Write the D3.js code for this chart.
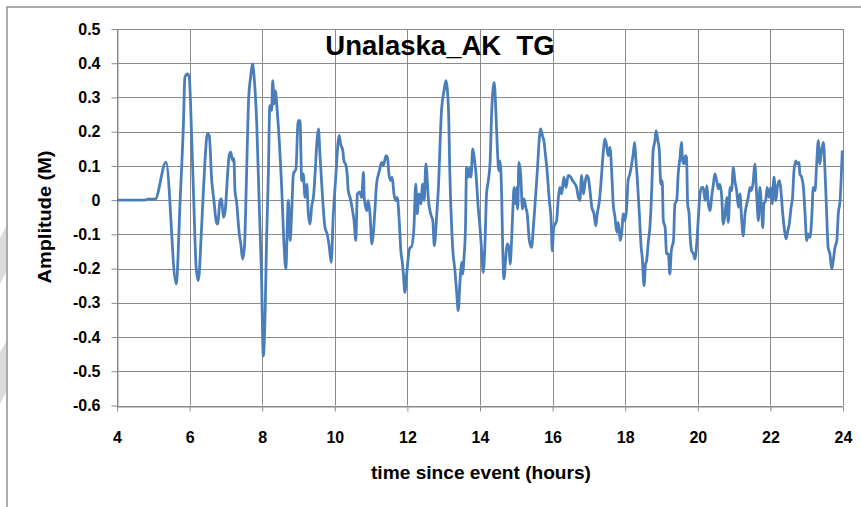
<!DOCTYPE html>
<html>
<head>
<meta charset="utf-8">
<script src="https://cdn.jsdelivr.net/npm/d3@7"></script>
<style>
  html, body { margin: 0; padding: 0; background: #ffffff; }
  svg { display: block; }
  text { font-family: "Liberation Sans", Arial, sans-serif; font-weight: bold; fill: #000; }
</style>
</head>
<body>
<script>
// tide gauge record
var timeHours = [
  4.00, 4.77, 4.85, 5.05, 5.35, 5.63, 5.74, 5.83, 5.87, 5.94, 5.99, 6.06, 6.12, 6.18, 6.20, 6.24,
  6.33, 6.38, 6.42, 6.49, 6.54, 6.61, 6.67, 6.73, 6.77, 6.84, 6.88, 6.93, 6.98, 7.05, 7.09, 7.13,
  7.19, 7.22, 7.25, 7.30, 7.34, 7.37, 7.41, 7.46, 7.51, 7.57, 7.62, 7.68, 7.74, 7.77, 7.85, 7.92,
  7.98, 8.03, 8.08, 8.12, 8.17, 8.21, 8.26, 8.29, 8.33, 8.36, 8.42, 8.54, 8.60, 8.65, 8.72, 8.77,
  8.81, 8.86, 8.93, 8.99, 9.04, 9.09, 9.13, 9.18, 9.23, 9.27, 9.32, 9.36, 9.41, 9.55, 9.59, 9.64,
  9.73, 9.79, 9.85, 9.90, 9.96, 10.02, 10.12, 10.16, 10.22, 10.25, 10.31, 10.34, 10.37, 10.42, 10.49, 10.53,
  10.58, 10.62, 10.69, 10.74, 10.79, 10.81, 10.88, 10.92, 10.97, 11.02, 11.06, 11.11, 11.15, 11.23, 11.29, 11.34,
  11.41, 11.45, 11.49, 11.54, 11.58, 11.63, 11.68, 11.72, 11.78, 11.82, 11.86, 11.89, 11.93, 11.98, 12.07, 12.11,
  12.18, 12.23, 12.27, 12.32, 12.37, 12.42, 12.46, 12.51, 12.58, 12.64, 12.70, 12.74, 12.81, 12.85, 12.94, 13.01,
  13.06, 13.13, 13.17, 13.25, 13.31, 13.36, 13.40, 13.45, 13.50, 13.52, 13.56, 13.60, 13.63, 13.68, 13.72, 13.75,
  13.80, 13.84, 13.89, 13.95, 14.00, 14.05, 14.09, 14.14, 14.18, 14.23, 14.28, 14.32, 14.39, 14.44, 14.48, 14.52,
  14.55, 14.60, 14.62, 14.66, 14.71, 14.75, 14.80, 14.83, 14.87, 14.90, 14.94, 14.98, 15.01, 15.04, 15.07, 15.12,
  15.17, 15.21, 15.26, 15.30, 15.36, 15.42, 15.47, 15.51, 15.58, 15.63, 15.67, 15.73, 15.76, 15.80, 15.84, 15.91,
  15.96, 15.99, 16.03, 16.07, 16.11, 16.16, 16.20, 16.25, 16.31, 16.37, 16.43, 16.50, 16.55, 16.62, 16.66, 16.71,
  16.75, 16.80, 16.85, 16.89, 16.94, 16.98, 17.03, 17.08, 17.14, 17.19, 17.23, 17.29, 17.33, 17.40, 17.44, 17.49,
  17.53, 17.58, 17.63, 17.67, 17.72, 17.77, 17.81, 17.86, 17.90, 17.95, 17.99, 18.04, 18.08, 18.13, 18.18, 18.22,
  18.26, 18.29, 18.33, 18.39, 18.44, 18.47, 18.52, 18.56, 18.59, 18.64, 18.68, 18.73, 18.77, 18.82, 18.85, 18.90,
  18.94, 18.98, 19.02, 19.05, 19.10, 19.14, 19.19, 19.23, 19.27, 19.33, 19.37, 19.42, 19.46, 19.51, 19.55, 19.58,
  19.62, 19.66, 19.69, 19.72, 19.76, 19.79, 19.83, 19.88, 19.92, 19.97, 20.01, 20.06, 20.11, 20.15, 20.20, 20.25,
  20.29, 20.34, 20.38, 20.43, 20.47, 20.52, 20.57, 20.61, 20.66, 20.70, 20.75, 20.80, 20.84, 20.89, 20.93, 20.98,
  21.02, 21.07, 21.12, 21.16, 21.21, 21.25, 21.30, 21.35, 21.39, 21.44, 21.48, 21.53, 21.57, 21.62, 21.67, 21.71,
  21.76, 21.79, 21.82, 21.87, 21.91, 21.96, 22.01, 22.05, 22.10, 22.15, 22.19, 22.25, 22.29, 22.34, 22.38, 22.43,
  22.48, 22.52, 22.57, 22.61, 22.65, 22.70, 22.74, 22.79, 22.81, 22.86, 22.91, 22.95, 23.00, 23.04, 23.09, 23.14,
  23.18, 23.23, 23.27, 23.32, 23.36, 23.41, 23.46, 23.50, 23.55, 23.59, 23.64, 23.69, 23.73, 23.78, 23.83, 23.87,
  23.92, 23.98
];

var amplitudeM = [
  0.000, 0.000, 0.003, 0.003, 0.111, -0.245, 0.000, 0.223, 0.359, 0.369, 0.359, 0.174, -0.021, -0.196, -0.216, -0.235,
  -0.080, 0.028, 0.107, 0.194, 0.189, 0.057, -0.001, -0.060, -0.070, -0.001, 0.004, -0.050, -0.031, 0.081, 0.130, 0.140,
  0.115, 0.121, 0.028, -0.010, -0.065, -0.100, -0.127, -0.172, -0.138, 0.077, 0.281, 0.359, 0.398, 0.369, 0.223, -0.021,
  -0.216, -0.455, -0.333, -0.118, 0.077, 0.276, 0.262, 0.349, 0.281, 0.320, 0.252, 0.028, -0.128, -0.201, -0.001, -0.118,
  -0.040, 0.077, 0.091, 0.232, 0.232, 0.057, 0.077, 0.008, 0.047, -0.040, -0.070, -0.021, 0.008, 0.208, 0.135, 0.047,
  -0.080, -0.099, -0.138, -0.182, -0.040, 0.057, 0.189, 0.164, 0.145, 0.115, 0.101, 0.077, 0.028, 0.008, -0.031, -0.060,
  -0.118, 0.018, 0.023, 0.008, 0.081, 0.008, -0.031, -0.001, -0.040, -0.128, -0.099, -0.021, 0.047, 0.086, 0.110, 0.101,
  0.130, 0.125, 0.077, 0.057, 0.067, 0.018, -0.001, 0.008, -0.070, -0.148, -0.182, -0.216, -0.270, -0.216, -0.138, -0.138,
  -0.080, 0.047, -0.040, 0.018, -0.011, 0.047, -0.001, 0.106, -0.001, -0.040, -0.060, -0.133, -0.040, 0.028, 0.262, 0.320,
  0.349, 0.271, 0.077, -0.143, -0.206, -0.274, -0.323, -0.235, -0.182, -0.216, -0.167, -0.080, 0.096, 0.067, 0.096, 0.067,
  0.150, 0.125, 0.077, -0.021, -0.080, -0.157, -0.211, -0.118, 0.018, 0.057, 0.115, 0.252, 0.344, 0.252, 0.145, 0.086,
  0.115, -0.001, -0.109, -0.230, -0.167, -0.128, -0.138, -0.187, -0.118, -0.040, 0.037, -0.011, 0.037, -0.026, 0.110, 0.077,
  -0.026, 0.004, -0.021, -0.040, -0.118, -0.138, -0.080, -0.021, 0.086, 0.174, 0.208, 0.184, 0.174, 0.135, 0.096, -0.001,
  -0.060, -0.148, -0.080, -0.070, -0.060, 0.008, 0.037, 0.018, 0.067, 0.037, 0.072, 0.067, 0.057, 0.047, 0.037, 0.008,
  -0.001, 0.072, 0.018, 0.047, 0.072, 0.067, 0.028, -0.021, -0.040, -0.075, -0.040, -0.001, 0.047, 0.145, 0.179, 0.159,
  0.130, 0.154, 0.077, -0.011, -0.050, -0.094, -0.065, -0.118, -0.099, -0.040, -0.060, -0.021, 0.057, 0.077, 0.106, 0.135,
  0.169, 0.125, 0.067, -0.040, -0.138, -0.167, -0.250, -0.187, -0.177, -0.118, -0.080, 0.028, 0.145, 0.174, 0.203, 0.174,
  0.145, 0.047, 0.057, -0.060, -0.080, -0.157, -0.157, -0.216, -0.148, -0.118, -0.011, -0.001, 0.077, 0.125, 0.169, 0.115,
  0.106, 0.130, 0.125, -0.011, -0.040, -0.109, -0.148, -0.157, -0.172, -0.128, -0.060, 0.018, 0.037, 0.037, -0.001, 0.042,
  -0.011, -0.031, 0.008, 0.047, 0.077, 0.057, 0.033, 0.047, 0.008, -0.070, -0.040, 0.008, -0.065, 0.037, 0.028, 0.096,
  0.057, 0.028, -0.021, 0.018, -0.060, -0.104, -0.040, -0.011, 0.008, 0.037, 0.028, 0.057, 0.106, 0.018, -0.060, 0.037,
  -0.031, -0.080, -0.011, -0.001, 0.037, 0.008, 0.037, -0.011, 0.067, -0.001, 0.037, 0.057, 0.028, -0.040, -0.080, -0.113,
  -0.089, -0.070, -0.021, 0.008, 0.086, 0.115, 0.106, 0.110, 0.077, 0.067, 0.037, -0.031, -0.118, -0.099, -0.109, -0.050,
  0.037, 0.028, 0.096, 0.174, 0.106, 0.145, 0.169, 0.096, -0.040, -0.138, -0.157, -0.201, -0.177, -0.138, -0.118, -0.040,
  -0.001, 0.145
];

var xTicks = [4, 6, 8, 10, 12, 14, 16, 18, 20, 22, 24];
var yTicks = [0.5, 0.4, 0.3, 0.2, 0.1, 0, -0.1, -0.2, -0.3, -0.4, -0.5, -0.6];
var chartTitle = "Unalaska_AK  TG";
var xTitle = "time since event (hours)";
var yTitle = "Amplitude (M)";

var width = 861, height = 507;
var plotLeft = 117, plotRight = 843, plotTop = 29, plotBottom = 405.5;

var svg = d3.select("body").append("svg")
            .attr("width", width)
            .attr("height", height);

// faint shapes on the left edge and the outer frame
svg.append("polygon")
   .attr("points", "0,238 6,226 6,272 0,284")
   .attr("fill", "#dcdcdc");
svg.append("polygon")
   .attr("points", "0,352 6,342 6,392 0,404")
   .attr("fill", "#dcdcdc");
svg.append("rect")
   .attr("x", 7).attr("y", 7)
   .attr("width", 1000).attr("height", 1000)
   .attr("fill", "none")
   .attr("stroke", "#8e8e8e")
   .attr("stroke-width", 1.5);

var x = d3.scaleLinear().domain([4, 24]).range([plotLeft, plotRight]);
var y = d3.scaleLinear().domain([-0.6, 0.5]).range([plotBottom, plotTop]);

// gridlines
svg.append("g").selectAll("line")
   .data(yTicks)
   .join("line")
   .attr("x1", plotLeft).attr("x2", plotRight)
   .attr("y1", d => Math.round(y(d)) + 0.5)
   .attr("y2", d => Math.round(y(d)) + 0.5)
   .attr("stroke", "#8a8a8a")
   .attr("stroke-width", 1);

svg.append("g").selectAll("line")
   .data(xTicks)
   .join("line")
   .attr("x1", d => Math.round(x(d)) + 0.5)
   .attr("x2", d => Math.round(x(d)) + 0.5)
   .attr("y1", plotTop).attr("y2", plotBottom)
   .attr("stroke", "#8a8a8a")
   .attr("stroke-width", 1);

// axes
var fmt = function(d) { return d === 0 ? "0" : d.toFixed(1); };

var yAxis = svg.append("g")
   .attr("transform", "translate(" + (plotLeft + 0.5) + ",0)")
   .call(d3.axisLeft(y).tickValues(yTicks).tickSize(6).tickSizeOuter(0).tickPadding(11).tickFormat(fmt));

var xAxis = svg.append("g")
   .attr("transform", "translate(0," + (Math.round(plotBottom) + 0.5) + ")")
   .call(d3.axisBottom(x).tickValues(xTicks).tickSize(5).tickSizeOuter(0).tickPadding(20).tickFormat(d3.format("d")));

[yAxis, xAxis].forEach(function(ax) {
  ax.select(".domain").attr("stroke", "#8a8a8a");
  ax.selectAll(".tick line").attr("stroke", "#8a8a8a");
  ax.selectAll("text")
    .attr("fill", "#000")
    .style("font-family", "'Liberation Sans', Arial, sans-serif")
    .style("font-weight", "bold")
    .style("font-size", "16px");
});

// the series
var line = d3.line()
             .x(function(d, i) { return x(timeHours[i]); })
             .y(function(d) { return y(d); })
             .curve(d3.curveMonotoneX);

svg.append("path")
   .datum(amplitudeM)
   .attr("fill", "none")
   .attr("stroke", "#4a7ebb")
   .attr("stroke-width", 2.8)
   .attr("stroke-linejoin", "round")
   .attr("d", line);

// titles
svg.append("text")
   .attr("x", 440).attr("y", 55)
   .attr("text-anchor", "middle")
   .style("font-size", "27.5px")
   .style("white-space", "pre")
   .text(chartTitle);

svg.append("text")
   .attr("x", 481).attr("y", 479)
   .attr("text-anchor", "middle")
   .attr("textLength", 220)
   .attr("lengthAdjust", "spacingAndGlyphs")
   .style("font-size", "18px")
   .text(xTitle);

svg.append("text")
   .attr("transform", "translate(51,217) rotate(-90)")
   .attr("text-anchor", "middle")
   .attr("textLength", 133)
   .attr("lengthAdjust", "spacingAndGlyphs")
   .style("font-size", "18px")
   .text(yTitle);
</script>
</body>
</html>
